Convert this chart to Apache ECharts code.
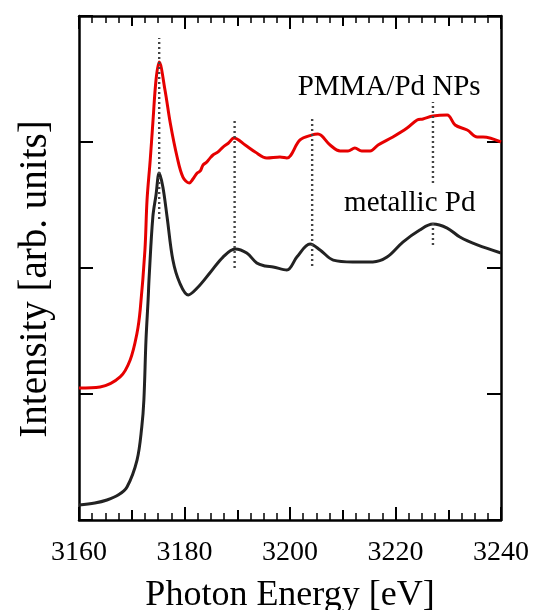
<!DOCTYPE html>
<html><head><meta charset="utf-8">
<script src="https://cdn.jsdelivr.net/npm/echarts@6/dist/echarts.min.js"></script>
<style>html,body{margin:0;padding:0;background:#fff}#c{width:533px;height:610px}</style>
</head><body><div id="c"></div><script>
// metallic Pd (black)
const energyPd = [3160.0,3163.0,3165.3,3167.5,3169.1,3171.0,3171.9,3172.3,3172.7,3173.1,3173.3,3174.0,3174.6,3175.2,3175.9,3176.7,3177.8,3179.1,3180.7,3182.4,3184.8,3187.3,3189.6,3191.8,3193.7,3195.3,3196.8,3199.4,3201.3,3203.8,3205.7,3208.2,3211.9,3215.7,3218.4,3221.4,3224.6,3227.1,3229.8,3232.2,3235.5,3240.0];
const intensityPd = [0.119,0.135,0.159,0.200,0.262,0.476,0.738,0.952,1.429,1.746,1.929,2.405,2.579,2.754,2.643,2.405,2.063,1.881,1.786,1.841,1.960,2.087,2.151,2.119,2.040,2.016,2.008,1.984,2.087,2.190,2.143,2.063,2.048,2.048,2.087,2.206,2.302,2.349,2.317,2.246,2.183,2.119];
// PMMA/Pd NPs (red)
const energyPMMA = [3160.0,3164.0,3167.8,3169.7,3171.0,3171.6,3172.5,3172.9,3173.5,3174.0,3174.6,3175.2,3176.3,3177.3,3178.6,3179.7,3180.9,3181.6,3182.4,3183.0,3183.5,3184.2,3184.8,3185.4,3186.3,3187.3,3188.3,3189.4,3191.5,3193.4,3195.6,3198.1,3199.4,3201.9,3204.2,3205.3,3207.6,3209.5,3211.0,3212.3,3213.6,3215.2,3216.7,3219.5,3222.2,3224.1,3225.2,3227.1,3229.8,3231.3,3233.6,3235.5,3236.6,3240.0];
const intensityPMMA = [1.048,1.056,1.135,1.270,1.484,1.667,2.143,2.540,2.857,3.151,3.492,3.635,3.413,3.151,2.881,2.722,2.675,2.706,2.754,2.770,2.817,2.840,2.870,2.897,2.920,2.960,2.990,3.032,2.976,2.921,2.873,2.881,2.873,3.016,3.056,3.063,2.976,2.929,2.929,2.952,2.929,2.929,2.976,3.040,3.111,3.175,3.183,3.206,3.214,3.135,3.095,3.040,3.040,3.000];
// dotted reference segments
const refEnergy = [3175.2,3189.5,3204.2,3227.1,3227.1];
const refTop = [3.825,3.175,3.190,3.317,2.381];
const refBottom = [2.389,2.000,2.016,2.675,2.183];
// annotations
const noteText = ['PMMA/Pd NPs','metallic Pd'];
const noteEnergy = [3218.8,3222.7];
const noteIntensity = [3.43,2.516];
const xTickValues = [3160,3180,3200,3220,3240];

const FONT = "'Liberation Serif','Times New Roman',serif";
const chart = echarts.init(document.getElementById('c'), null, {renderer:'canvas'});
const zip = (a,b)=>a.map((v,i)=>[v,b[i]]);
const frame = {show:true, onZero:false, lineStyle:{color:'#000', width:2.5}};
const series = [];
refEnergy.forEach((e,i)=>{
  series.push({type:'line', xAxisIndex:0, yAxisIndex:0, data:[[e,refBottom[i]],[e,refTop[i]]], symbol:'none',
    lineStyle:{color:'#444', width:2.4, type:[2,3]}, z:5, silent:true});
});
series.push({name:'PMMA/Pd NPs', type:'line', xAxisIndex:0, yAxisIndex:0, data:zip(energyPMMA,intensityPMMA), symbol:'none', smooth:0.35, lineStyle:{color:'#e60000', width:3}, z:3});
series.push({name:'metallic Pd', type:'line', xAxisIndex:0, yAxisIndex:0, data:zip(energyPd,intensityPd), symbol:'none', smooth:0.35, lineStyle:{color:'#222', width:3}, z:3});
series.push({type:'scatter', xAxisIndex:0, yAxisIndex:0, symbolSize:1, silent:true, itemStyle:{opacity:0},
  data: noteText.map((t,i)=>({value:[noteEnergy[i],noteIntensity[i]], name:t})),
  label:{show:true, position:'inside', formatter:p=>p.name, fontFamily:FONT, fontSize:29, color:'#000', textBorderWidth:0, opacity:1}});

const xBase = {type:'value', min:3160, max:3240, interval:20};
chart.setOption({
  animation:false,
  grid:{left:79, right:32, top:16, bottom:90, containLabel:false, outerBoundsMode:'none'},
  xAxis:[
    Object.assign({}, xBase, {position:'bottom', axisLine:frame,
      axisTick:{show:true, inside:true, length:13, lineStyle:{color:'#000', width:2}},
      minorTick:{show:true, splitNumber:8, length:7, lineStyle:{color:'#000', width:1.5}},
      axisLabel:{show:true, margin:19, fontFamily:FONT, fontSize:28, color:'#000', customValues:xTickValues, formatter:v=>String(v)},
      splitLine:{show:false}, minorSplitLine:{show:false},
      name:'Photon Energy [eV]', nameLocation:'middle', nameGap:58, nameTextStyle:{fontFamily:FONT, fontSize:36, color:'#000'}}),
    Object.assign({}, xBase, {position:'top', axisLine:frame,
      axisTick:{show:true, inside:true, length:13, lineStyle:{color:'#000', width:2}},
      minorTick:{show:true, splitNumber:8, length:7, lineStyle:{color:'#000', width:1.5}},
      axisLabel:{show:false}, splitLine:{show:false}}),
    {type:'value', min:3160, max:3240, interval:10, position:'bottom', axisLine:{show:false, onZero:false},
      axisTick:{show:true, inside:true, length:10, lineStyle:{color:'#000', width:2}}, axisLabel:{show:false}, splitLine:{show:false}},
    {type:'value', min:3160, max:3240, interval:10, position:'top', axisLine:{show:false, onZero:false},
      axisTick:{show:true, inside:true, length:10, lineStyle:{color:'#000', width:2}}, axisLabel:{show:false}, splitLine:{show:false}}
  ],
  yAxis:[
    {type:'value', min:0, max:4, interval:1, position:'left', axisLine:frame,
      axisTick:{show:true, inside:true, length:14, lineStyle:{color:'#000', width:2}}, axisLabel:{show:false}, splitLine:{show:false},
      name:'Intensity [arb. units]', nameLocation:'middle', nameGap:24, nameTextStyle:{fontFamily:FONT, fontSize:39, color:'#000', padding:[0,22,0,0]}},
    {type:'value', min:0, max:4, interval:1, position:'right', axisLine:frame,
      axisTick:{show:true, inside:true, length:14, lineStyle:{color:'#000', width:2}}, axisLabel:{show:false}, splitLine:{show:false}}
  ],
  series: series
});
</script></body></html>
